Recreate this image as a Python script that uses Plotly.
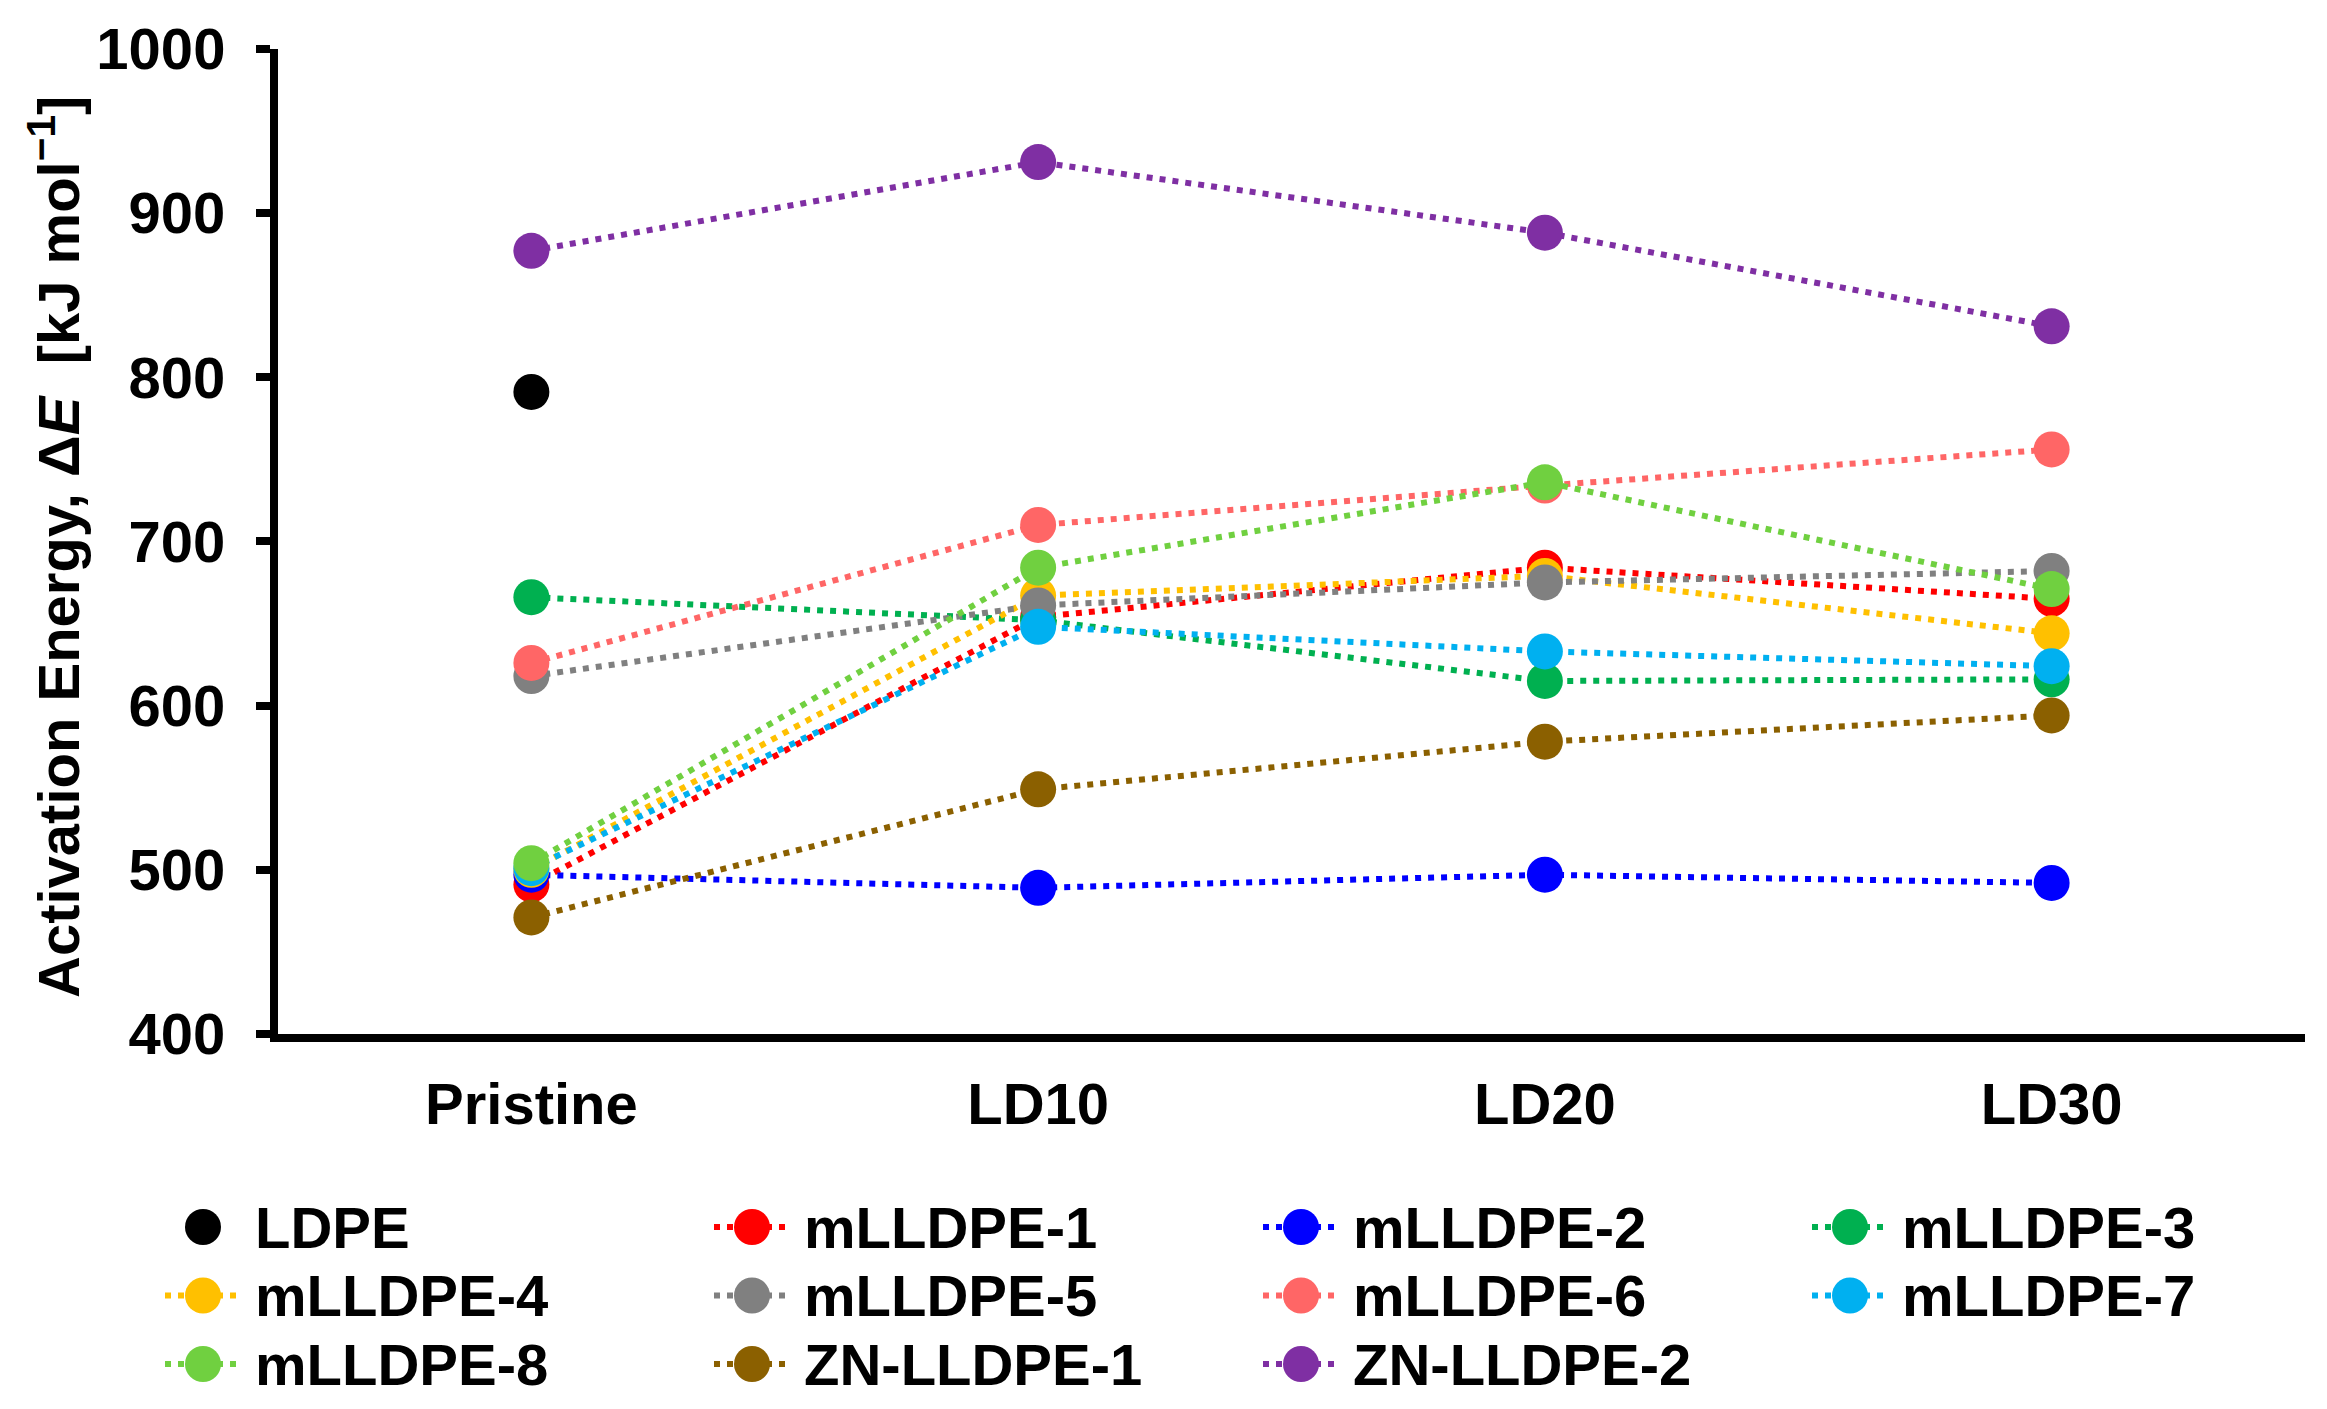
import plotly.graph_objects as go

# ---------------- data ----------------
categories = ["Pristine", "LD10", "LD20", "LD30"]

series_names = ["LDPE", "mLLDPE-1", "mLLDPE-2", "mLLDPE-3",
                "mLLDPE-4", "mLLDPE-5", "mLLDPE-6", "mLLDPE-7",
                "mLLDPE-8", "ZN-LLDPE-1", "ZN-LLDPE-2"]

ldpe       = [791, None, None, None]
mlldpe_1   = [491, 654, 684, 665]
mlldpe_2   = [497, 489, 497, 492]
mlldpe_3   = [666, 652, 615, 616]
mlldpe_4   = [500, 667, 679, 644]
mlldpe_5   = [618, 661, 675, 682]
mlldpe_6   = [626, 710, 734, 756]
mlldpe_7   = [501, 648, 633, 624]
mlldpe_8   = [504, 684, 736, 671]
zn_lldpe_1 = [471, 549, 578, 594]
zn_lldpe_2 = [877, 931, 888, 831]

y_tick_values = [400, 500, 600, 700, 800, 900, 1000]

series_values = [ldpe, mlldpe_1, mlldpe_2, mlldpe_3, mlldpe_4, mlldpe_5,
                 mlldpe_6, mlldpe_7, mlldpe_8, zn_lldpe_1, zn_lldpe_2]

# ---------------- styles ----------------
colors = ["#000000", "#FF0000", "#0000FF", "#00B050", "#FFC000", "#808080",
          "#FF6666", "#00B0F0", "#70D040", "#8B6000", "#7F2FA3"]
has_line = [False] + [True] * 10

W, H = 2327, 1409
FONT = "Liberation Sans, Arial, sans-serif"
FS = 58
MS = 36
DASH = "6px,7px"
LW = 6

fig = go.Figure()

for name, vals, col, ln in zip(series_names, series_values, colors, has_line):
    fig.add_trace(go.Scatter(
        x=categories, y=vals, name=name,
        mode="lines+markers" if ln else "markers",
        line=dict(color=col, width=LW, dash=DASH),
        marker=dict(color=col, size=MS, line=dict(width=0)),
        showlegend=False, xaxis="x", yaxis="y", cliponaxis=False,
    ))

# ---------------- custom legend (pixel-unit helper axes) ----------------
LEG_X0, LEG_DX = 203, 549
LEG_Y0, LEG_DY = 1227, 68.5
LEG_HALF = 38
LEG_TXT = 50
annotations = []
for i, (name, col, ln) in enumerate(zip(series_names, colors, has_line)):
    c, r = i % 4, i // 4
    cx = LEG_X0 + c * LEG_DX
    cy = LEG_Y0 + r * LEG_DY
    if ln:
        fig.add_trace(go.Scatter(
            x=[cx - LEG_HALF, cx + LEG_HALF], y=[cy, cy], mode="lines",
            line=dict(color=col, width=LW, dash=DASH),
            showlegend=False, hoverinfo="skip", xaxis="x2", yaxis="y2"))
    fig.add_trace(go.Scatter(
        x=[cx], y=[cy], mode="markers",
        marker=dict(color=col, size=MS, line=dict(width=0)),
        showlegend=False, hoverinfo="skip", xaxis="x2", yaxis="y2"))
    annotations.append(dict(
        x=cx + LEG_TXT, y=cy, xref="x2", yref="y2", text=name,
        showarrow=False, xanchor="left", yanchor="middle",
        font=dict(family=FONT, size=FS, color="black", weight="bold")))

annotations.append(dict(
    x=54 / W, y=1 - 547 / H, xref="paper", yref="paper",
    text="Activation Energy, Δ<i>E</i>\u00a0\u00a0[kJ mol<sup>−1</sup>]",
    textangle=-90, showarrow=False, xanchor="center", yanchor="middle",
    font=dict(family=FONT, size=FS, color="black", weight="bold")))

fig.update_layout(
    width=W, height=H,
    margin=dict(l=0, r=0, t=0, b=0, pad=0),
    paper_bgcolor="white", plot_bgcolor="rgba(0,0,0,0)",
    font=dict(family=FONT, size=FS, color="black", weight="bold"),
    xaxis=dict(domain=[278 / W, 2305 / W], type="category",
               range=[-0.5, 3.5], showline=True, linecolor="black",
               linewidth=8, ticks="", showgrid=False, zeroline=False,
               tickfont=dict(family=FONT, size=FS, color="black", weight="bold"),
               ticklabelstandoff=12, automargin=False, anchor="y"),
    yaxis=dict(domain=[1 - 1034 / H, 1 - 48.8 / H], range=[400, 1000],
               tickvals=y_tick_values, showline=True, linecolor="black",
               linewidth=8, ticks="outside", ticklen=14, tickwidth=8,
               tickcolor="black", showgrid=False, zeroline=False,
               tickfont=dict(family=FONT, size=FS, color="black", weight="bold"),
               ticklabelstandoff=19, automargin=False, anchor="x"),
    xaxis2=dict(domain=[0, 1], range=[0, W], visible=False, anchor="y2",
                fixedrange=True),
    yaxis2=dict(domain=[0, 1], range=[H, 0], visible=False, anchor="x2",
                fixedrange=True),
    annotations=annotations,
    showlegend=False,
)

fig.write_html("out.html", config={"displayModeBar": False},
               post_script="document.body.style.margin='0';document.body.style.overflow='hidden';")
